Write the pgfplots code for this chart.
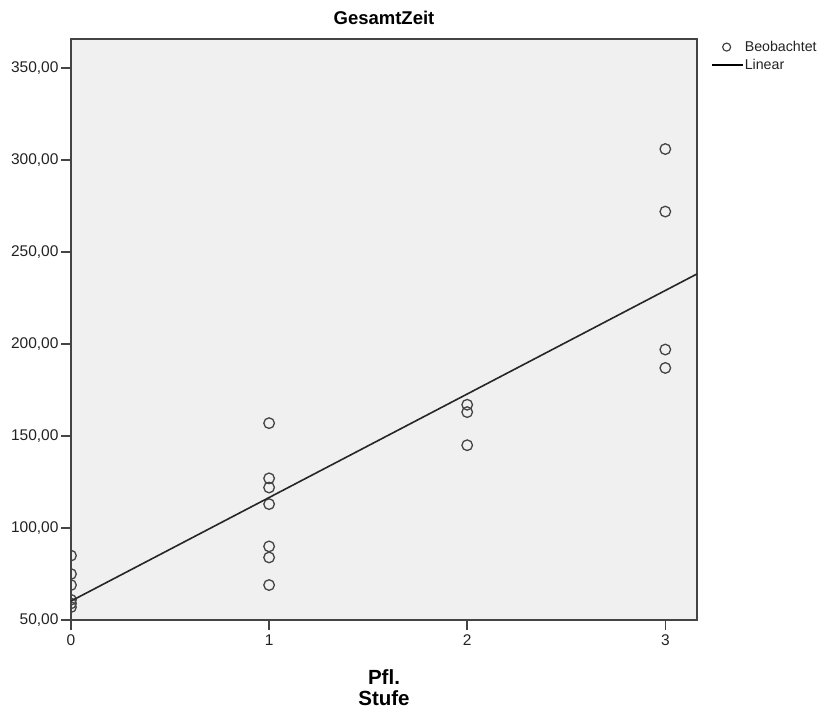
\documentclass[border=0pt]{standalone}
\usepackage{pgfplots}
\pgfplotsset{compat=1.18}
\usepackage{fontspec}
\setmainfont{Liberation Sans}
\definecolor{bggray}{HTML}{F0F0F0}
\definecolor{axgray}{HTML}{444444}
\definecolor{txtgray}{HTML}{222222}
\begin{document}
\begin{tikzpicture}
\useasboundingbox (-71pt,-93pt) rectangle (762pt,620pt);
\begin{axis}[
  scale only axis,
  width=626pt, height=581pt,
  xmin=0, xmax=3.16,
  ymin=50, ymax=365.8,
  xtick={0,1,2,3},
  ytick={50,100,150,200,250,300,350},
  axis background/.style={fill=bggray},
  axis line style={axgray, line width=1.6pt},
  tick style={axgray, line width=1.6pt},
  tick align=outside,
  major tick length=10pt,
  xtick pos=bottom, ytick pos=left,
  tick label style={font=\fontsize{15.5}{17}\selectfont, text=txtgray},
  xticklabel style={yshift=-1pt},
  yticklabel style={xshift=1pt},
  /pgf/number format/assume math mode=true,
  yticklabel={\pgfmathprintnumber[fixed, fixed zerofill, precision=2, use comma, 1000 sep={}, assume math mode=true]{\tick}},
  xticklabel={\pgfmathprintnumber[fixed, precision=0, assume math mode=true]{\tick}},
  clip=true,
  clip marker paths=true,
  legend style={at={(1,1)}, anchor=north west, xshift=14pt, yshift=-1pt, draw=none, fill=none,
    font=\fontsize{14.2}{16}\selectfont, inner sep=0pt, row sep=4pt,
    nodes={inner sep=1pt, text=txtgray}},
  legend cell align=left,
]
\addplot[only marks, mark=o, mark size=5.3pt, mark options={line width=1.3pt, draw=axgray},
  legend image code/.code={\draw[line width=1.2pt, axgray] (0.52cm,0) circle (4pt);}]
  coordinates {
  (0,85) (0,75) (0,69) (0,61) (0,59) (0,57)
  (1,157) (1,127) (1,122) (1,113) (1,90) (1,84) (1,69)
  (2,167) (2,163) (2,145)
  (3,306) (3,272) (3,197) (3,187)
  };
\addlegendentry{Beobachtet}
\addplot[black!85, line width=1.6pt,
  legend image code/.code={\draw[line width=1.3pt, black] (0cm,0) -- (1.1cm,0);}]
  coordinates {(0,60.3) (3.16,238.1)};
\addlegendentry{Linear}
\end{axis}
\node[font=\bfseries\fontsize{18.5}{20}\selectfont] at (313pt,602pt) {GesamtZeit};
\node[font=\bfseries\fontsize{20.5}{21}\selectfont, anchor=base] at (313pt,-64pt) {Pfl.};
\node[font=\bfseries\fontsize{20.5}{21}\selectfont, anchor=base] at (313pt,-85pt) {Stufe};
\end{tikzpicture}
\end{document}
